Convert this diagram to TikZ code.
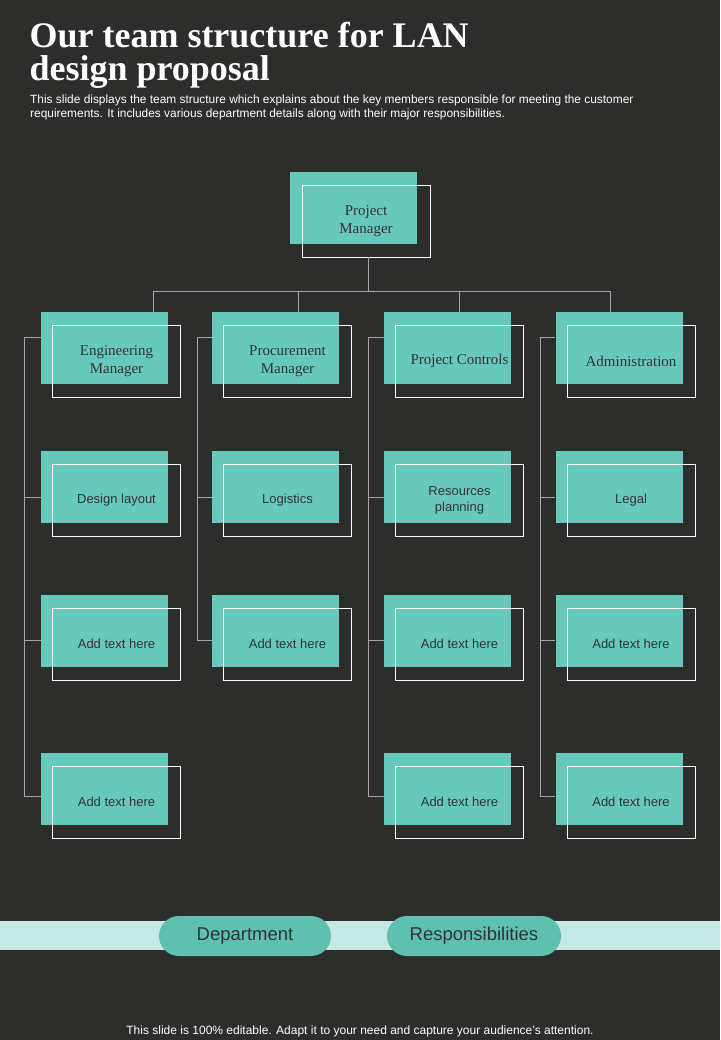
\documentclass[tikz,border=0pt]{standalone}
\usepackage{fontspec}
\setmainfont{Liberation Serif}
\setsansfont{Liberation Sans}
\usetikzlibrary{positioning}
\definecolor{bgdark}{HTML}{2D2E2C}
\definecolor{teal}{HTML}{67C9BB}
\definecolor{pill}{HTML}{5FC0B0}
\definecolor{band}{HTML}{C5E8E3}
\definecolor{txt}{HTML}{333333}
\tikzset{
  fillbox/.style = {fill=teal, minimum width=127pt, minimum height=72pt, inner sep=0pt},
  framebox/.style = {draw=white, line width=0.7pt, minimum width=128pt, minimum height=72pt, inner sep=0pt, text=txt, align=center, font=\fontsize{13}{16}\sffamily},
  headbox/.style = {framebox, font=\fontsize{15}{18}\selectfont},
  link/.style = {draw=gray!70, line width=0.6pt},
  tag/.style = {fill=pill, rounded corners=20pt, minimum height=40pt, text=txt, font=\fontsize{18.5}{22}\sffamily}
}
\begin{document}
\begin{tikzpicture}[x=1pt,y=-1pt]
        \fill[bgdark] (0,0) rectangle (720,1040);
        \useasboundingbox (0,0) rectangle (720,1040);
        %Title
        \node[anchor=west, text=white, font=\fontsize{36}{40}\bfseries] (title1) at (26,35) {Our team structure for LAN};
        \node[anchor=west, text=white, font=\fontsize{36}{40}\bfseries] (title2) at (26,72) {design proposal};
        \node[anchor=north west, text=white, align=left, inner sep=0pt, font=\fontsize{11.9}{13.5}\sffamily] (sub) at (30,95)
            {This slide displays the team structure which explains about the key members responsible for meeting the customer\\requirements. It includes various department details along with their major responsibilities.};
        %Top box
        \node[fillbox] (pmf) at (353.5,208) {};
        \node[headbox] (pm) at (366,221) {Project\\Manager};
        %Boxes
        \foreach \n/\x in {1/104.5,2/275.5,3/447.5,4/619}{
            \foreach \r/\y in {1/348,2/487,3/631,4/789}{
                \node[fillbox] (f\n\r) at (\x,\y) {};
            }
        }
        \node[headbox] (b11) at (116.5,361) {Engineering\\Manager};
        \node[headbox] (b21) at (287.5,361) {Procurement\\Manager};
        \node[headbox] (b31) at (459.5,361) {Project Controls};
        \node[headbox] (b41) at (631,361) {Administration};
        \node[framebox] (b12) at (116.5,500) {Design layout};
        \node[framebox] (b22) at (287.5,500) {Logistics};
        \node[framebox] (b32) at (459.5,500) {Resources\\planning};
        \node[framebox] (b42) at (631,500) {Legal};
        \foreach \n/\x in {1/116.5,2/287.5,3/459.5,4/631}{
            \node[framebox] (b\n3) at (\x,644) {Add text here};
        }
        \fill[bgdark] (212,753) rectangle (352,840);
        \foreach \n/\x in {1/116.5,3/459.5,4/631}{
            \node[framebox] (b\n4) at (\x,802) {Add text here};
        }
        %Links
        \coordinate (hub) at (368,291);
        \draw[link] (pm.south -| hub) -- (hub);
        \draw[link] (153,291) -- (610,291);
        \foreach \n/\x in {1/153,2/298,3/459,4/610}{
            \draw[link] (\x,291) -- (f\n1.north -| \x,0);
        }
        \foreach \n/\x/\last in {1/24/4,2/197/3,3/368/4,4/540/4}{
            \draw[link] (\x,337) -- (\x,{\last==3 ? 640 : 796});
            \foreach \r/\y in {1/337,2/497,3/640,4/796}{
                \ifnum\r>\last\else
                \draw[link] (\x,\y) -- (f\n\r.west |- 0,\y);
                \fi
            }
        }
        %Legend
        \fill[band] (0,921) rectangle (720,950);
        \node[tag, minimum width=172pt] (dept) at (245,936) {Department};
        \node[tag, minimum width=174pt] (resp) at (474,936) {Responsibilities};
        %Footer
        \node[text=white, font=\fontsize{12}{14}\sffamily] (foot) at (360,1031) {This slide is 100\% editable. Adapt it to your need and capture your audience’s attention.};
\end{tikzpicture}
\end{document}
